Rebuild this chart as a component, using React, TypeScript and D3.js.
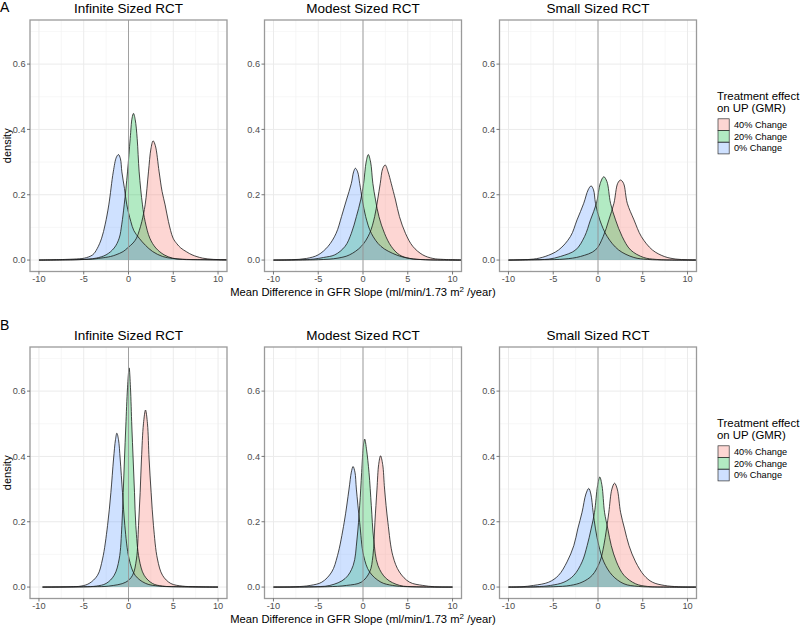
import * as React from "react";
import * as d3 from "d3";

type Pt = [number, number];

const panelTitles = ["Infinite Sized RCT", "Modest Sized RCT", "Small Sized RCT"];
const rowLabels = ["A", "B"];
const seriesNames = ["40% Change", "20% Change", "0% Change"];
const seriesColors = ["#F8766D", "#00BA38", "#619CFF"];
const xTicks = [-10, -5, 0, 5, 10];
const xMinor = [-7.5, -2.5, 2.5, 7.5];
const yTicks = [0, 0.2, 0.4, 0.6];
const yMinor = [0.1, 0.3, 0.5, 0.7];

// ---- row A: density of mean difference, by trial size ----
const infA40: Pt[] = [[-10, 0], [-6, 0.001], [-4, 0.003], [-3.1, 0.006], [-2, 0.011], [-1.41, 0.016], [-0.6, 0.026], [-0.11, 0.037], [0.5, 0.052], [0.89, 0.067], [1.2, 0.09], [1.49, 0.118], [1.86, 0.169], [2.23, 0.27], [2.5, 0.34], [2.75, 0.365], [3.0, 0.35], [3.42, 0.27], [3.75, 0.21], [4.09, 0.169], [4.46, 0.118], [4.98, 0.067], [5.4, 0.05], [5.84, 0.037], [6.5, 0.025], [7.1, 0.016], [8.25, 0.006], [9.5, 0.002], [11, 0.001], [12, 0]];
const infA20: Pt[] = [[-10, 0], [-6, 0.001], [-4.5, 0.003], [-3.6, 0.006], [-2.5, 0.016], [-1.6, 0.037], [-1.04, 0.067], [-0.75, 0.11], [-0.48, 0.169], [-0.11, 0.27], [0.19, 0.372], [0.4, 0.435], [0.56, 0.449], [0.75, 0.43], [0.97, 0.372], [1.19, 0.27], [1.56, 0.169], [1.86, 0.118], [2.38, 0.067], [3.05, 0.037], [3.98, 0.016], [4.9, 0.006], [6, 0.002], [8, 0.001], [12, 0]];
const infA0: Pt[] = [[-10, 0], [-7, 0.002], [-5.5, 0.004], [-4.9, 0.006], [-4, 0.016], [-3.5, 0.035], [-3, 0.067], [-2.6, 0.11], [-2.2, 0.169], [-1.7, 0.27], [-1.35, 0.315], [-1.12, 0.323], [-0.9, 0.31], [-0.74, 0.27], [-0.45, 0.219], [-0.19, 0.169], [0.26, 0.118], [0.6, 0.09], [1.19, 0.067], [1.9, 0.045], [2.7, 0.026], [3.8, 0.011], [4.9, 0.005], [6.5, 0.002], [9, 0.001], [12, 0]];

const modA40: Pt[] = [[-10, 0], [-5, 0.001], [-2.8, 0.006], [-1.5, 0.016], [-0.19, 0.042], [0.74, 0.082], [1.3, 0.133], [1.63, 0.184], [1.93, 0.235], [2.2, 0.28], [2.48, 0.291], [2.8, 0.27], [3.15, 0.235], [3.63, 0.184], [4.07, 0.133], [4.74, 0.082], [5.56, 0.042], [6.67, 0.016], [7.8, 0.005], [9, 0.002], [12, 0]];
const modA20: Pt[] = [[-10, 0], [-7, 0.001], [-5.5, 0.003], [-4.4, 0.008], [-3.15, 0.016], [-2, 0.042], [-1.3, 0.082], [-0.74, 0.133], [-0.26, 0.184], [0.07, 0.235], [0.35, 0.3], [0.59, 0.323], [0.85, 0.3], [1.1, 0.235], [1.4, 0.184], [1.78, 0.133], [2.4, 0.082], [3.15, 0.042], [4.07, 0.016], [5.2, 0.005], [7, 0.001], [12, 0]];
const modA0: Pt[] = [[-10, 0], [-8, 0.001], [-6.3, 0.005], [-5, 0.016], [-3.9, 0.042], [-3, 0.082], [-2.4, 0.133], [-1.85, 0.184], [-1.3, 0.235], [-1.05, 0.27], [-0.85, 0.281], [-0.6, 0.27], [-0.37, 0.235], [-0.07, 0.184], [0.3, 0.133], [0.93, 0.082], [2, 0.042], [3.7, 0.016], [5.2, 0.005], [7, 0.001], [12, 0]];

const smlA40: Pt[] = [[-10, 0], [-6, 0.001], [-3.8, 0.003], [-1.96, 0.011], [-0.28, 0.031], [0.58, 0.072], [1.21, 0.123], [1.78, 0.174], [2.2, 0.235], [2.52, 0.245], [2.85, 0.235], [3.27, 0.174], [4.02, 0.123], [4.84, 0.072], [6.07, 0.031], [7.4, 0.011], [8.7, 0.003], [10, 0.001], [12, 0]];
const smlA20: Pt[] = [[-10, 0], [-7.5, 0.001], [-5.5, 0.003], [-4.2, 0.011], [-2.5, 0.031], [-1.5, 0.072], [-0.84, 0.123], [-0.17, 0.174], [0.25, 0.235], [0.65, 0.255], [1.0, 0.24], [1.4, 0.174], [1.96, 0.123], [2.7, 0.072], [3.64, 0.031], [5.1, 0.008], [6.5, 0.002], [9, 0], [12, 0]];
const smlA0: Pt[] = [[-10, 0], [-8.5, 0.001], [-7.2, 0.003], [-5.9, 0.011], [-4.4, 0.031], [-3.08, 0.072], [-2.34, 0.123], [-1.59, 0.174], [-1.1, 0.215], [-0.77, 0.227], [-0.5, 0.215], [-0.28, 0.174], [0.2, 0.123], [1.03, 0.072], [2.3, 0.031], [4.0, 0.008], [5.5, 0.002], [8, 0], [12, 0]];

// ---- row B ----
const infB40: Pt[] = [[-9.6, 0], [-4, 0.001], [-2.2, 0.003], [-0.3, 0.015], [0.45, 0.036], [0.89, 0.086], [1.12, 0.188], [1.3, 0.289], [1.45, 0.392], [1.67, 0.5], [1.9, 0.542], [2.12, 0.5], [2.3, 0.392], [2.53, 0.289], [2.79, 0.188], [3.23, 0.086], [3.8, 0.036], [4.72, 0.011], [6.0, 0.003], [7.5, 0.001], [10, 0]];
const infB20: Pt[] = [[-9.6, 0], [-5, 0.001], [-3.6, 0.003], [-2.5, 0.011], [-1.6, 0.036], [-1.04, 0.086], [-0.74, 0.188], [-0.59, 0.289], [-0.45, 0.392], [-0.3, 0.493], [-0.11, 0.61], [0.07, 0.671], [0.22, 0.61], [0.37, 0.493], [0.52, 0.392], [0.67, 0.289], [0.82, 0.188], [1.19, 0.086], [1.75, 0.036], [2.68, 0.011], [3.8, 0.003], [6, 0.001], [10, 0]];
const infB0: Pt[] = [[-9.6, 0], [-6.5, 0.001], [-5.3, 0.003], [-4.4, 0.011], [-3.46, 0.036], [-2.9, 0.086], [-2.34, 0.188], [-1.97, 0.289], [-1.67, 0.392], [-1.45, 0.452], [-1.3, 0.471], [-1.12, 0.452], [-0.93, 0.392], [-0.67, 0.289], [-0.41, 0.188], [0.07, 0.086], [0.74, 0.036], [1.93, 0.011], [3.4, 0.003], [5, 0.001], [10, 0]];

const modB40: Pt[] = [[-10, 0], [-4, 0.001], [-1.85, 0.005], [-0.19, 0.015], [0.74, 0.046], [1.11, 0.096], [1.33, 0.198], [1.56, 0.3], [1.75, 0.375], [1.96, 0.402], [2.2, 0.375], [2.41, 0.3], [2.78, 0.198], [3.33, 0.096], [4.07, 0.046], [5.2, 0.015], [6.67, 0.005], [8, 0.001], [10, 0]];
const modB20: Pt[] = [[-10, 0], [-6, 0.001], [-3.7, 0.005], [-2.0, 0.026], [-1.1, 0.066], [-0.67, 0.147], [-0.37, 0.249], [-0.15, 0.351], [0.05, 0.435], [0.19, 0.453], [0.4, 0.42], [0.67, 0.351], [0.93, 0.249], [1.19, 0.147], [1.67, 0.066], [2.6, 0.026], [4.1, 0.005], [6, 0.001], [10, 0]];
const modB0: Pt[] = [[-10, 0], [-7.5, 0.001], [-5.9, 0.005], [-4.6, 0.015], [-3.5, 0.046], [-2.85, 0.096], [-2.1, 0.198], [-1.56, 0.3], [-1.3, 0.352], [-1.11, 0.369], [-0.9, 0.352], [-0.74, 0.3], [-0.37, 0.198], [0.07, 0.096], [0.74, 0.046], [2.0, 0.015], [3.3, 0.005], [5, 0.001], [10, 0]];

const smlB40: Pt[] = [[-10, 0], [-5, 0.001], [-3.1, 0.005], [-1.78, 0.015], [-0.65, 0.036], [0.2, 0.077], [0.65, 0.127], [0.95, 0.178], [1.21, 0.229], [1.55, 0.3], [1.85, 0.318], [2.15, 0.3], [2.52, 0.229], [2.97, 0.178], [3.46, 0.127], [4.2, 0.077], [5.14, 0.036], [6.07, 0.015], [7.4, 0.005], [9, 0.001], [12, 0]];
const smlB20: Pt[] = [[-10, 0], [-7, 0.001], [-5.3, 0.005], [-3.8, 0.015], [-2.7, 0.036], [-1.78, 0.077], [-1.21, 0.127], [-0.77, 0.178], [-0.39, 0.229], [-0.05, 0.31], [0.2, 0.337], [0.45, 0.31], [0.73, 0.229], [1.1, 0.178], [1.48, 0.127], [2.07, 0.077], [2.9, 0.036], [4.2, 0.01], [5.5, 0.002], [8, 0], [12, 0]];
const smlB0: Pt[] = [[-10, 0], [-8.5, 0.001], [-7.2, 0.005], [-5.5, 0.015], [-4.4, 0.036], [-3.46, 0.077], [-2.7, 0.127], [-2.26, 0.178], [-1.78, 0.229], [-1.35, 0.285], [-1.03, 0.302], [-0.8, 0.285], [-0.54, 0.229], [-0.28, 0.178], [0.09, 0.127], [0.65, 0.077], [1.59, 0.036], [2.9, 0.01], [4.5, 0.002], [7, 0], [12, 0]];

const rowData: Pt[][][][] = [
  [[infA40, infA20, infA0], [modA40, modA20, modA0], [smlA40, smlA20, smlA0]],
  [[infB40, infB20, infB0], [modB40, modB20, modB0], [smlB40, smlB20, smlB0]],
];

const FONT = "'Liberation Sans', Arial, Helvetica, sans-serif";
const W = 800;
const H = 628;
const panelLefts = [30, 264.5, 499.5];
const panelW = 197;
const rowTops = [20, 347];
const panelH = 251.5;

const Panel = ({ left, top, title, series, id }: { left: number; top: number; title: string; series: Pt[][]; id: string }) => {
  const x = d3.scaleLinear().domain([-11, 11]).range([left, left + panelW]);
  const y = d3.scaleLinear().domain([-0.035, 0.735]).range([top + panelH, top]);
  const curve = d3.curveCatmullRom.alpha(0.5);
  const area = d3
    .area<Pt>()
    .x((d) => x(d[0]))
    .y0(y(0))
    .y1((d) => y(d[1]))
    .curve(curve);
  const line = d3
    .line<Pt>()
    .x((d) => x(d[0]))
    .y((d) => y(d[1]))
    .curve(curve);
  const bottom = top + panelH;

  return (
    <g>
      <defs>
        <clipPath id={id}>
          <rect x={left} y={top} width={panelW} height={panelH} />
        </clipPath>
      </defs>
      <rect x={left} y={top} width={panelW} height={panelH} fill="#fff" />
      {xMinor.map((v) => (
        <line key={"xm" + v} x1={x(v)} x2={x(v)} y1={top} y2={bottom} stroke="#f2f2f2" strokeWidth={0.6} />
      ))}
      {yMinor.map((v) => (
        <line key={"ym" + v} x1={left} x2={left + panelW} y1={y(v)} y2={y(v)} stroke="#f2f2f2" strokeWidth={0.6} />
      ))}
      {xTicks.map((v) => (
        <line key={"xg" + v} x1={x(v)} x2={x(v)} y1={top} y2={bottom} stroke="#ebebeb" strokeWidth={1} />
      ))}
      {yTicks.map((v) => (
        <line key={"yg" + v} x1={left} x2={left + panelW} y1={y(v)} y2={y(v)} stroke="#ebebeb" strokeWidth={1} />
      ))}
      <g clipPath={`url(#${id})`}>
        {series.map((s, i) => (
          <path key={"a" + i} d={area(s) ?? ""} fill={seriesColors[i]} fillOpacity={0.3} stroke="none" />
        ))}
        {series.map((s, i) => (
          <path key={"l" + i} d={line(s) ?? ""} fill="none" stroke="#1a1a1a" strokeWidth={0.8} />
        ))}
      </g>
      <line x1={x(0)} x2={x(0)} y1={top} y2={bottom} stroke="#999" strokeWidth={0.9} />
      <rect x={left} y={top} width={panelW} height={panelH} fill="none" stroke="#9a9a9a" strokeWidth={1.3} />

      {xTicks.map((v) => (
        <g key={"xt" + v}>
          <line x1={x(v)} x2={x(v)} y1={bottom} y2={bottom + 3} stroke="#555" strokeWidth={0.8} />
          <text x={x(v)} y={bottom + 10} textAnchor="middle" fontSize={9.2} fill="#4d4d4d" fontFamily={FONT}>
            {v}
          </text>
        </g>
      ))}
      {yTicks.map((v) => (
        <g key={"yt" + v}>
          <line x1={left - 3} x2={left} y1={y(v)} y2={y(v)} stroke="#555" strokeWidth={0.8} />
          <text x={left - 4.5} y={y(v)} dy="0.35em" textAnchor="end" fontSize={9.2} fill="#4d4d4d" fontFamily={FONT}>
            {v.toFixed(1)}
          </text>
        </g>
      ))}
      <text x={left + panelW / 2} y={top - 6.8} textAnchor="middle" fontSize={13.5} fill="#000" fontFamily={FONT}>
        {title}
      </text>
    </g>
  );
};

const Legend = ({ x0, top }: { x0: number; top: number }) => {
  const key = 11.7;
  return (
    <g fontFamily={FONT}>
      <text x={x0} y={top + 79.5} fontSize={11.4} fill="#000">Treatment effect</text>
      <text x={x0} y={top + 91.7} fontSize={11.4} fill="#000">on UP (GMR)</text>
      {seriesNames.map((name, i) => {
        const ky = top + 98.8 + i * key;
        return (
          <g key={name}>
            <rect x={x0 + 1} y={ky} width={key - 0.5} height={key} fill={seriesColors[i]} fillOpacity={0.3} stroke="#333" strokeWidth={0.7} />
            <text x={x0 + 17} y={ky + key / 2} dy="0.35em" fontSize={9.2} fill="#000">
              {name}
            </text>
          </g>
        );
      })}
    </g>
  );
};

export default function App() {
  const midX = panelLefts[1] + panelW / 2;
  return (
    <svg
      width={W}
      height={H}
      viewBox={`0 0 ${W} ${H}`}
      style={{ position: "absolute", left: 0, top: 0, background: "#fff", display: "block" }}
    >
      <rect x={0} y={0} width={W} height={H} fill="#fff" />
      {rowTops.map((top, r) => (
        <g key={"row" + r}>
          {panelLefts.map((left, c) => (
            <Panel key={c} left={left} top={top} title={panelTitles[c]} series={rowData[r][c]} id={`clip-${r}-${c}`} />
          ))}
          <text x={0} y={r === 0 ? 11.7 : 330} fontSize={14} fill="#000" fontFamily={FONT}>
            {rowLabels[r]}
          </text>
          <text
            transform={`translate(10.8, ${top + panelH / 2}) rotate(-90)`}
            textAnchor="middle"
            fontSize={11}
            fill="#000"
            fontFamily={FONT}
          >
            density
          </text>
          <text x={midX} y={top + panelH + 24.5} textAnchor="middle" fontSize={11.2} fill="#000" fontFamily={FONT}>
            Mean Difference in GFR Slope (ml/min/1.73 m
            <tspan dy={-4.5} fontSize={8}>2</tspan>
            <tspan dy={4.5}> /year)</tspan>
          </text>
          <Legend x0={717} top={top} />
        </g>
      ))}
    </svg>
  );
}
